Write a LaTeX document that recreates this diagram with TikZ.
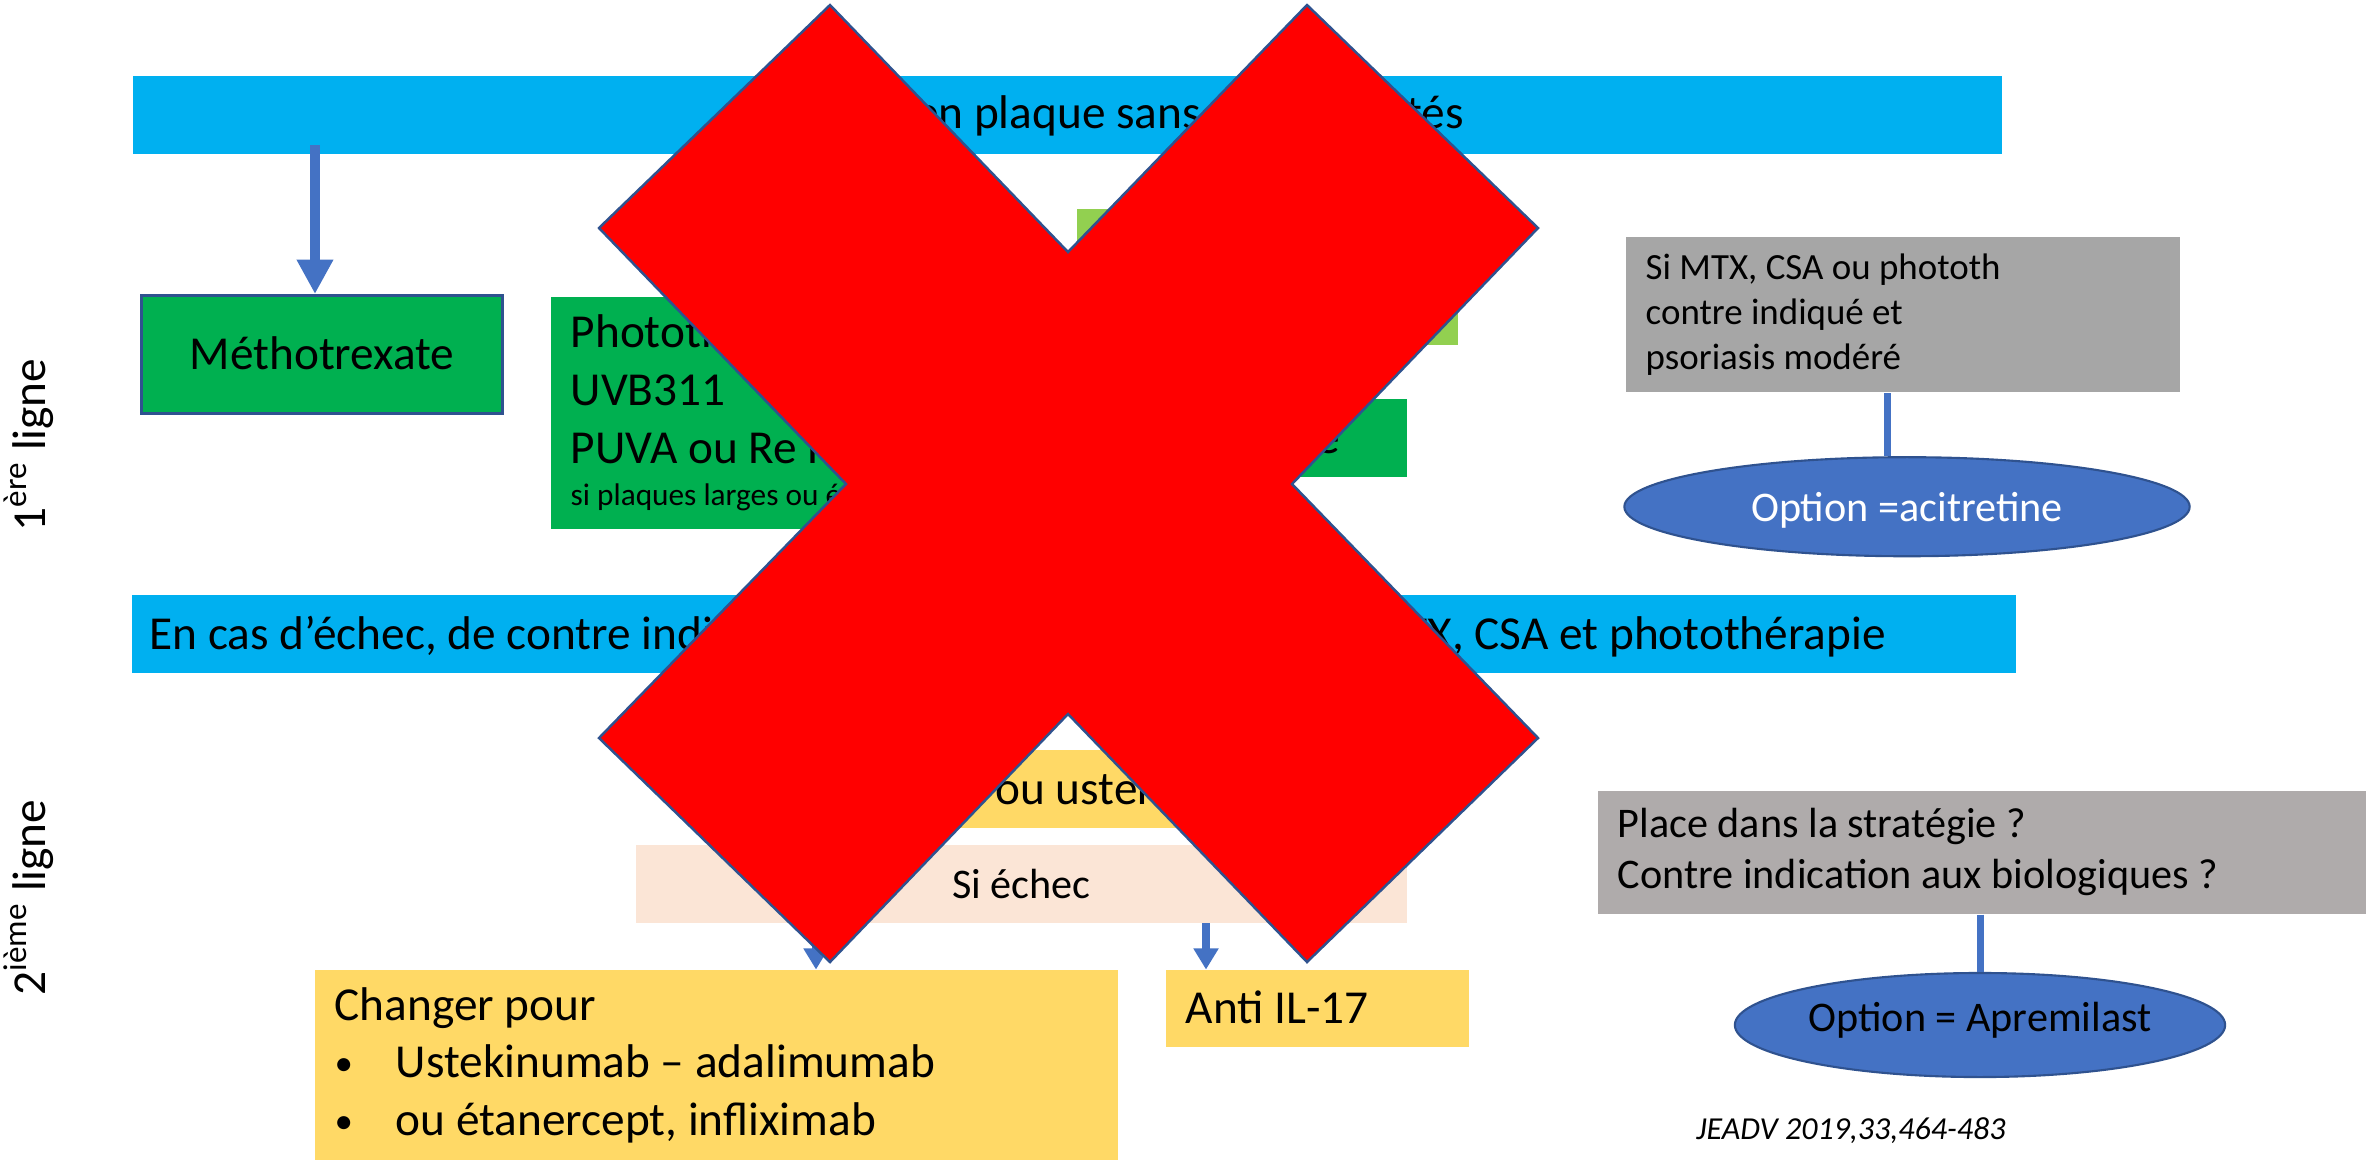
\documentclass[tikz,border=0pt]{standalone}
\usepackage{fontspec}
\setmainfont{Carlito}
\usetikzlibrary{shapes}
\usetikzlibrary{positioning}
\usetikzlibrary{arrows.meta}
\definecolor{barblue}{HTML}{00B0F0}
\definecolor{medgreen}{HTML}{00B050}
\definecolor{lightgreen}{HTML}{92D050}
\definecolor{boxgray}{HTML}{A6A6A6}
\definecolor{boxgrayb}{HTML}{AFABAB}
\definecolor{ovalblue}{HTML}{4472C4}
\definecolor{edgeblue}{HTML}{2F528F}
\definecolor{gold}{HTML}{FFD966}
\definecolor{peach}{HTML}{FBE5D6}
\newcommand{\puce}{\makebox[0.61cm][l]{\raisebox{0.6pt}{\fontsize{10.5pt}{10.5pt}\selectfont\textbullet}}}
\tikzset{
    bigtxt/.style = {font=\fontsize{13.45pt}{16.36pt}\selectfont},
    midtxt/.style = {font=\fontsize{12pt}{14.5pt}\selectfont},
    smalltxt/.style = {font=\fontsize{10.5pt}{12.8pt}\selectfont},
    reftxt/.style = {font=\fontsize{9.1pt}{11pt}\selectfont\itshape},
    barnode/.style = {rectangle, fill=barblue, anchor=north west, minimum height=0.78cm, bigtxt},
    greennode/.style = {rectangle, fill=medgreen, anchor=north west, bigtxt},
    lgreennode/.style = {rectangle, fill=lightgreen, anchor=north west},
    yellownode/.style = {rectangle, fill=gold, anchor=north west, bigtxt},
    peachnode/.style = {rectangle, fill=peach, anchor=north west, midtxt},
    graynode/.style = {rectangle, fill=boxgray, anchor=north west, inner xsep=0.2cm, align=flush left, smalltxt},
    graynodeb/.style = {rectangle, fill=boxgrayb, anchor=north west, inner xsep=0.2cm, align=flush left, midtxt},
    ovalnode/.style = {ellipse, fill=ovalblue, draw=edgeblue, line width=0.6pt, inner sep=0pt, midtxt},
    sidenode/.style = {rotate=90, anchor=base, bigtxt},
    edgeb/.style = {-{Triangle[length=9.8pt,width=9.8pt]}, line width=2.6pt, draw=ovalblue},
    edgebs/.style = {-{Triangle[length=6pt,width=6.8pt]}, line width=2.1pt, draw=ovalblue},
    linkb/.style = {line width=2pt, draw=ovalblue},
    crossout/.style = {fill=red, draw=edgeblue, line width=0.7pt, line join=miter}
}
\begin{document}
\begin{tikzpicture}[x=0.01cm,y=-0.01cm]
\path[fill=white,use as bounding box] (0,0) rectangle (2372,1159);
%
% 1ere ligne
\node[barnode,minimum width=18.68cm] at (132,75) (bar1) {};
\node[bigtxt,anchor=base west] at (727,128) (bar1txt) {Psoriasis en plaque sans comorbidités};
\node[greennode,draw=edgeblue,line width=0.8pt,minimum width=3.61cm,minimum height=1.18cm,
      text height=0.30cm,text depth=0pt] at (140,294) (metho) {Méthotrexate};
\node[greennode,minimum width=4.6cm,minimum height=2.32cm,text width=4.2cm,inner xsep=0.2cm,
      align=flush left] at (550,296) (photo)
      {Photothérapie\\UVB311\\PUVA ou Re PUVA\\[-4.4pt]{\fontsize{8.9pt}{10.7pt}\selectfont si plaques larges ou épaisses}};
\node[lgreennode,minimum width=3.81cm,minimum height=1.36cm] at (1076,208) (lgreen) {};
\node[greennode,minimum width=3.69cm,minimum height=0.78cm,text height=0.32cm,text depth=0pt]
      at (1037,398) (cyclo) {Ciclosporine};
\node[graynode,minimum width=5.54cm,minimum height=1.555cm,text width=5.14cm] at (1625,236) (gray1)
      {Si MTX, CSA ou phototh\\contre indiqué et\\psoriasis modéré};
\node[ovalnode,text=white,minimum width=5.65cm,minimum height=0.99cm,text height=0.29cm,text depth=0pt]
      at (1907,506.7) (opt1) {Option =acitretine};
%
% 2eme ligne
\node[barnode,minimum width=18.83cm,text width=18.47cm,inner xsep=0.18cm,align=flush left,
      text height=0.32cm,text depth=0pt] at (131,594) (bar2)
      {En cas d’échec, de contre indication ou d’intolérance avérée au MTX, CSA et photothérapie};
\node[yellownode,minimum width=7.2cm,minimum height=0.78cm,text height=0.32cm,text depth=0pt]
      at (700,749) (ustek) {Anti-TNF ou ustekinumab};
\node[peachnode,minimum width=7.71cm,minimum height=0.78cm,text height=0.30cm,text depth=0pt]
      at (635,844) (sechec) {Si échec};
\node[yellownode,minimum width=8.03cm,minimum height=1.895cm,text width=7.63cm,inner xsep=0.2cm,
      align=flush left] at (314,969.5) (chg)
      {Changer pour\\\puce Ustekinumab – adalimumab\\\puce ou étanercept, infliximab};
\node[yellownode,minimum width=3.03cm,minimum height=0.765cm,text width=2.63cm,inner xsep=0.2cm,
      align=flush left,text height=0.30cm,text depth=0pt] at (1165,969.5) (antil) {Anti IL-17};
\node[graynodeb,minimum width=7.68cm,minimum height=1.23cm,text width=7.28cm] at (1597,790) (gray2)
      {Place dans la stratégie~?\\Contre indication aux biologiques~?};
\node[ovalnode,minimum width=4.9cm,minimum height=1.04cm,text height=0.13cm,text depth=0pt]
      at (1980,1025) (opt2) {Option = Apremilast};
\node[reftxt,anchor=base west] at (1684,1139.6) (ref) {JEADV 2019,33,464-483};
%
% lignes
\node[sidenode] at (45,445) (lig1) {1\textsuperscript{ère} ligne};
\node[sidenode] at (45,897.5) (lig2) {2\textsuperscript{ième} ligne};
%
\coordinate (fa) at (816,0);
\coordinate (fb) at (1206,0);
\coordinate (fc) at (1887,0);
\draw[edgeb] ([xshift=-2pt,yshift=2.6pt]metho.north |- bar1.south) -- ([xshift=-2pt]metho.north);
\draw[edgebs] (sechec.south -| fa) -- (chg.north -| fa);
\draw[edgebs] (sechec.south -| fb) -- (antil.north -| fb);
\draw[linkb] (gray1.south -| fc) -- (opt1.north -| fc);
\draw[linkb] (gray2.south -| opt2.north) -- (opt2.north);
%
% croix
\filldraw[crossout] (830,5) -- (1068,252) -- (1307,5) -- (1538,228) -- (1292,484) -- (1538,738)
      -- (1307,962) -- (1068,714) -- (830,962) -- (599,738) -- (846,484) -- (599,228) -- cycle;

\end{tikzpicture}
\end{document}
